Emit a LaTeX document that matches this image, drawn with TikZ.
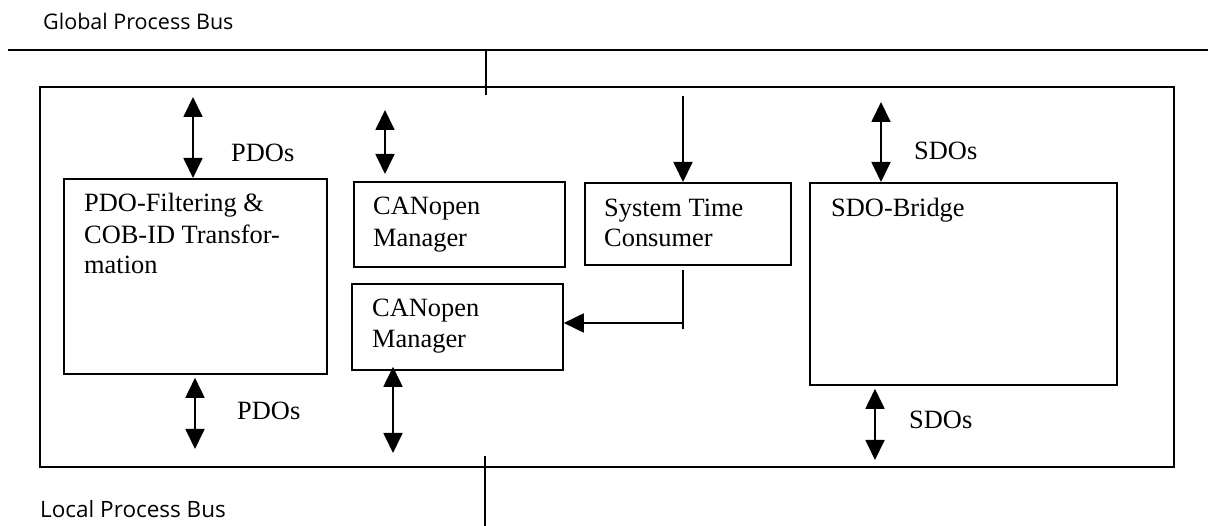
\documentclass[tikz,border=0pt]{standalone}
\usepackage{fontspec}
\setmainfont{Liberation Serif}
\newfontfamily\busfont{Open Sans}
\usetikzlibrary{arrows.meta}

\tikzset{
  box/.style={draw, line width=1.8pt, inner sep=0pt, anchor=north west},
  lbl/.style={inner sep=0pt, anchor=base west, align=left,
              font=\fontsize{26.4}{32}\selectfont},
  buslbl/.style={inner sep=0pt, anchor=base west,
                 font=\busfont\fontsize{21.5}{26}\selectfont},
  wire/.style={line width=1.8pt},
  dbl/.style={wire, {Triangle[length=20pt,width=19pt]}-{Triangle[length=20pt,width=19pt]}},
  sgl/.style={wire, -{Triangle[length=20pt,width=19pt]}}
}

\begin{document}
\begin{tikzpicture}[x=1pt,y=-1pt]
  \useasboundingbox (0,0) rectangle (1208,526);

  % buses
  \coordinate (gL) at (8,50);
  \coordinate (gR) at (1208,50);
  \coordinate (gT) at (486,50);
  \coordinate (gE) at (486,95);
  \coordinate (lT) at (485,456);
  \coordinate (lE) at (485,526);
  \draw[wire] (gL) -- (gR);
  \draw[wire] (gT) -- (gE);
  \draw[wire] (lT) -- (lE);
  \node[buslbl] (gbus) at (43,30) {Global Process Bus};
  \node[buslbl, font=\busfont\fontsize{22.5}{27}\selectfont] (lbus) at (40,518) {Local Process Bus};

  % enclosing device
  \node[box, minimum width=1134, minimum height=380] (dev) at (39,86) {};

  % PDO filtering
  \node[box, minimum width=263, minimum height=195] (pdo) at (63,178) {};
  \node[lbl] (pdot1) at (84,212) {PDO-Filtering \&};
  \node[lbl] (pdot2) at (84,244) {COB-ID Transfor-};
  \node[lbl] (pdot3) at (84,274) {mation};
  \coordinate (pdoA) at (193,97);
  \coordinate (pdoB) at (195,449);
  \draw[dbl] (pdoA) -- (pdoA |- pdo.north);
  \draw[dbl] ([yshift=-3pt]pdoB |- pdo.south) -- (pdoB);
  \node[lbl] (pdos1) at (231,162) {PDOs};
  \node[lbl] (pdos2) at (237,420) {PDOs};

  % CANopen manager (upper)
  \node[box, minimum width=211, minimum height=85] (cm1) at (353,181) {};
  \node[lbl] (cm1a) at (373,215) {CANopen};
  \node[lbl] (cm1b) at (373,247) {Manager};
  \coordinate (cmA) at (385,110);
  \draw[dbl] (cmA) -- ([yshift=7pt]cmA |- cm1.north);

  % CANopen manager (lower)
  \node[box, minimum width=211, minimum height=86] (cm2) at (351,283) {};
  \node[lbl] (cm2a) at (372,317) {CANopen};
  \node[lbl] (cm2b) at (372,348) {Manager};
  \coordinate (cmB) at (393,453);
  \draw[dbl] ([yshift=4pt]cmB |- cm2.south) -- (cmB);

  % system time consumer
  \node[box, minimum width=206, minimum height=82] (stc) at (584,182) {};
  \node[lbl] (stca) at (604,217) {System Time};
  \node[lbl] (stcb) at (604,247) {Consumer};
  \coordinate (stA) at (683,96);
  \coordinate (stJ) at (683,323);
  \coordinate (stE) at (683,329);
  \draw[sgl] (stA) -- (stA |- stc.north);
  \draw[wire] ([yshift=-4pt]stA |- stc.south) -- (stE);
  \draw[sgl] (stJ) -- (stJ -| cm2.east);

  % SDO bridge
  \node[box, minimum width=307, minimum height=202] (sdo) at (809,182) {};
  \node[lbl] (sdot) at (831,217) {SDO-Bridge};
  \coordinate (sdoA) at (881,102);
  \coordinate (sdoB) at (875,460);
  \draw[dbl] (sdoA) -- (sdoA |- sdo.north);
  \draw[dbl] ([yshift=-3pt]sdoB |- sdo.south) -- (sdoB);
  \node[lbl] (sdos1) at (914,160) {SDOs};
  \node[lbl] (sdos2) at (909,429) {SDOs};
\end{tikzpicture}
\end{document}
